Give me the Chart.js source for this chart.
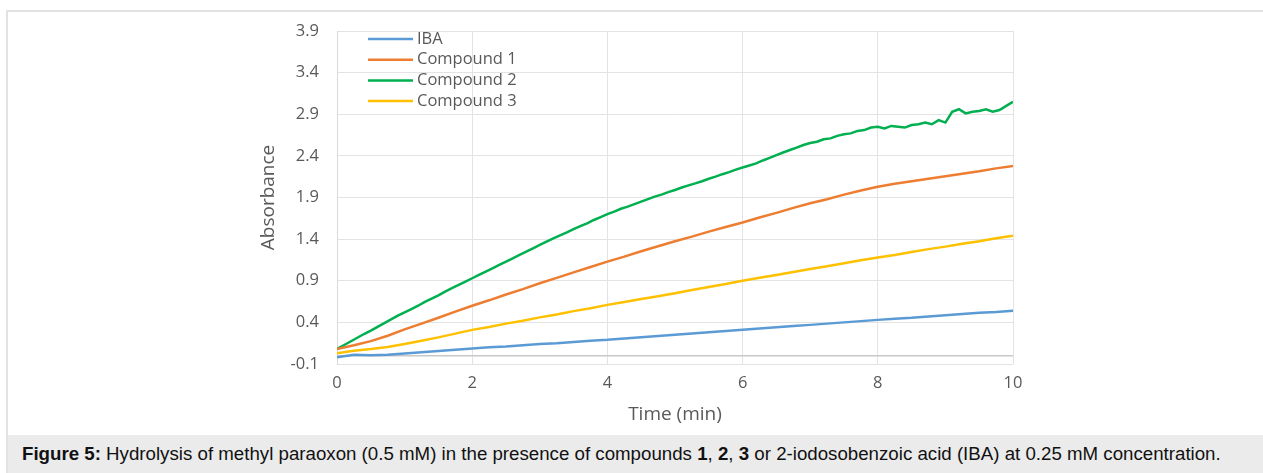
<!DOCTYPE html>
<html lang="en">
    <head>
        <meta charset="UTF-8" />
        <title>Figure 5</title>
        <script src="https://cdn.jsdelivr.net/npm/chart.js"></script>
        <style>
            body { margin: 0; width: 1263px; height: 473px; background: #fff; position: relative; overflow: hidden; }
            .frame { position: absolute; left: 6px; top: 10px; right: -4px; bottom: -4px; border-top: 2px solid #e2e2e2; border-left: 2px solid #e2e2e2; }
            .chart-box { position: absolute; left: 254px; top: 0; width: 1009px; height: 435px; }
            .caption { position: absolute; left: 8px; right: 0; top: 435px; height: 38px; background: #ebebeb;
                       font-family: "Liberation Sans", Arial, sans-serif; font-size: 18.7px; color: #111; line-height: 38px; padding-left: 14px; white-space: nowrap; }
        </style>
    </head>
    <body>
        <div class="frame"></div>
        <div class="chart-box"><canvas id="chartHidrolisis"></canvas></div>
        <div class="caption"><b>Figure 5:</b> Hydrolysis of methyl paraoxon (0.5 mM) in the presence of compounds <b>1</b>, <b>2</b>, <b>3</b> or 2-iodosobenzoic acid (IBA) at 0.25 mM concentration.</div>

        <script>
            // time axis (min)
            const timeSmooth = [0, 0.25, 0.5, 0.75, 1, 1.25, 1.5, 1.75, 2, 2.25, 2.5, 2.75, 3, 3.25, 3.5, 3.75, 4, 4.25, 4.5, 4.75, 5,
                5.25, 5.5, 5.75, 6, 6.25, 6.5, 6.75, 7, 7.25, 7.5, 7.75, 8, 8.25, 8.5, 8.75, 9, 9.25, 9.5, 9.75, 10];
            const timeFine = [0, 0.1, 0.2, 0.3, 0.4, 0.5, 0.6, 0.7, 0.8, 0.9, 1, 1.1, 1.2, 1.3, 1.4, 1.5, 1.6, 1.7, 1.8, 1.9,
                2, 2.1, 2.2, 2.3, 2.4, 2.5, 2.6, 2.7, 2.8, 2.9, 3, 3.1, 3.2, 3.3, 3.4, 3.5, 3.6, 3.7, 3.8, 3.9,
                4, 4.1, 4.2, 4.3, 4.4, 4.5, 4.6, 4.7, 4.8, 4.9, 5, 5.1, 5.2, 5.3, 5.4, 5.5, 5.6, 5.7, 5.8, 5.9,
                6, 6.1, 6.2, 6.3, 6.4, 6.5, 6.6, 6.7, 6.8, 6.9, 7, 7.1, 7.2, 7.3, 7.4, 7.5, 7.6, 7.7, 7.8, 7.9,
                8, 8.1, 8.2, 8.3, 8.4, 8.5, 8.6, 8.7, 8.8, 8.9, 9, 9.1, 9.2, 9.3, 9.4, 9.5, 9.6, 9.7, 9.8, 9.9, 10];

            const seriesNames = ["IBA", "Compound 1", "Compound 2", "Compound 3"];
            const seriesColors = ["#5b9bd5", "#ed7d31", "#00b050", "#ffc000"];

            const absIBA = [-0.02, 0.01, 0.005, 0.01, 0.025, 0.04, 0.055, 0.07, 0.085, 0.1, 0.11, 0.125, 0.14, 0.15, 0.165, 0.18, 0.19,
                0.205, 0.22, 0.235, 0.25, 0.265, 0.28, 0.295, 0.31, 0.325, 0.34, 0.355, 0.37, 0.385, 0.4, 0.415, 0.43,
                0.445, 0.455, 0.47, 0.485, 0.5, 0.515, 0.525, 0.54];
            const absC1 = [0.08, 0.125, 0.175, 0.24, 0.315, 0.385, 0.455, 0.53, 0.6, 0.665, 0.735, 0.8, 0.87, 0.935, 1.0, 1.065, 1.13,
                1.19, 1.255, 1.315, 1.375, 1.43, 1.49, 1.545, 1.6, 1.66, 1.715, 1.775, 1.83, 1.88, 1.935, 1.985, 2.03,
                2.065, 2.095, 2.125, 2.155, 2.185, 2.215, 2.25, 2.28];
            const absC2 = [0.08, 0.125, 0.17, 0.215, 0.26, 0.3, 0.345, 0.39, 0.435, 0.48, 0.52, 0.56, 0.6, 0.645, 0.685, 0.725, 0.77, 0.81, 0.85, 0.89,
                0.93, 0.97, 1.01, 1.05, 1.09, 1.13, 1.17, 1.21, 1.25, 1.29, 1.33, 1.37, 1.41, 1.445, 1.48, 1.52, 1.555, 1.59, 1.63, 1.665,
                1.7, 1.73, 1.765, 1.79, 1.82, 1.85, 1.88, 1.91, 1.935, 1.965, 1.99, 2.02, 2.045, 2.07, 2.095, 2.125, 2.15, 2.18, 2.205, 2.235,
                2.26, 2.285, 2.31, 2.345, 2.375, 2.41, 2.44, 2.47, 2.5, 2.53, 2.555, 2.57, 2.6, 2.61, 2.64, 2.66, 2.67, 2.7, 2.71, 2.74,
                2.75, 2.73, 2.76, 2.75, 2.74, 2.77, 2.78, 2.8, 2.78, 2.83, 2.8, 2.93, 2.96, 2.91, 2.93, 2.94, 2.96, 2.93, 2.95, 3.0, 3.05];
            const absC3 = [0.03, 0.06, 0.08, 0.105, 0.14, 0.18, 0.22, 0.265, 0.31, 0.345, 0.385, 0.42, 0.46, 0.495, 0.535, 0.57, 0.61,
                0.645, 0.68, 0.715, 0.75, 0.79, 0.825, 0.86, 0.9, 0.935, 0.97, 1.005, 1.04, 1.075, 1.11, 1.145, 1.18,
                1.21, 1.245, 1.28, 1.31, 1.345, 1.375, 1.41, 1.44];

            const yTicks = [-0.1, 0.4, 0.9, 1.4, 1.9, 2.4, 2.9, 3.4, 3.9];
            const yTickLabels = ["-0.1", "0.4", "0.9", "1.4", "1.9", "2.4", "2.9", "3.4", "3.9"];
            const xTicks = [0, 2, 4, 6, 8, 10];

            const tickFont = { family: "Open Sans", size: 16.5 };
            const titleFont = { family: "Open Sans", size: 19 };
            const textGray = "#595959";

            function toPoints(xs, ys) {
                return ys.map((y, i) => ({ x: xs[i], y: y }));
            }

            const seriesData = [
                toPoints(timeSmooth, absIBA),
                toPoints(timeSmooth, absC1),
                toPoints(timeFine, absC2),
                toPoints(timeSmooth, absC3),
            ];

            // darker line at y = 0 (Excel horizontal axis) and the legend inside the plot
            const extrasPlugin = {
                id: "extras",
                beforeDatasetsDraw(chart) {
                    const ctx = chart.ctx;
                    const area = chart.chartArea;
                    const y0 = chart.scales.y.getPixelForValue(0);
                    ctx.save();
                    ctx.strokeStyle = "#c8c8c8";
                    ctx.lineWidth = 1.5;
                    ctx.beginPath();
                    ctx.moveTo(area.left, y0);
                    ctx.lineTo(area.right, y0);
                    ctx.stroke();
                    ctx.restore();
                },
                afterDraw(chart) {
                    const ctx = chart.ctx;
                    const area = chart.chartArea;
                    ctx.save();
                    ctx.font = "16.5px 'Open Sans'";
                    ctx.textBaseline = "middle";
                    chart.data.datasets.forEach((ds, i) => {
                        const y = area.top + 8 + i * 20.7;
                        const x = area.left + 31;
                        ctx.strokeStyle = ds.borderColor;
                        ctx.lineWidth = 2.5;
                        ctx.beginPath();
                        ctx.moveTo(x, y);
                        ctx.lineTo(x + 45, y);
                        ctx.stroke();
                        ctx.fillStyle = textGray;
                        ctx.fillText(ds.label, x + 49, y);
                    });
                    ctx.restore();
                },
            };

            new Chart(document.getElementById("chartHidrolisis"), {
                type: "line",
                data: {
                    datasets: seriesNames.map((name, i) => ({
                        label: name,
                        data: seriesData[i],
                        borderColor: seriesColors[i],
                        borderWidth: 2.5,
                        pointRadius: 0,
                        tension: 0,
                        fill: false,
                    })),
                },
                plugins: [extrasPlugin],
                options: {
                    responsive: true,
                    maintainAspectRatio: false,
                    animation: false,
                    layout: { padding: { top: 31, right: 250, bottom: 9, left: 0 } },
                    plugins: { legend: { display: false }, tooltip: { enabled: false } },
                    scales: {
                        x: {
                            type: "linear",
                            min: 0,
                            max: 10,
                            afterFit: (s) => { s.height = 62; },
                            afterBuildTicks: (s) => { s.ticks = xTicks.map((v) => ({ value: v })); },
                            ticks: { font: tickFont, color: textGray, padding: 9 },
                            grid: { color: "#e3e3e3", lineWidth: 1, drawTicks: false },
                            border: { display: false },
                            title: { display: true, text: "Time (min)", font: titleFont, color: textGray, padding: 0 },
                        },
                        y: {
                            min: -0.1,
                            max: 3.9,
                            afterFit: (s) => { s.width = 83; },
                            afterBuildTicks: (s) => { s.ticks = yTicks.map((v) => ({ value: v })); },
                            ticks: {
                                font: tickFont,
                                color: textGray,
                                padding: 18,
                                callback: (v) => yTickLabels[yTicks.indexOf(v)] ?? "",
                            },
                            grid: { color: "#e3e3e3", lineWidth: 1, drawTicks: false },
                            border: { color: "#d9d9d9" },
                            title: { display: true, text: "Absorbance", font: titleFont, color: textGray, padding: { top: 3, bottom: 0 } },
                        },
                    },
                },
            });
        </script>
    </body>
</html>
